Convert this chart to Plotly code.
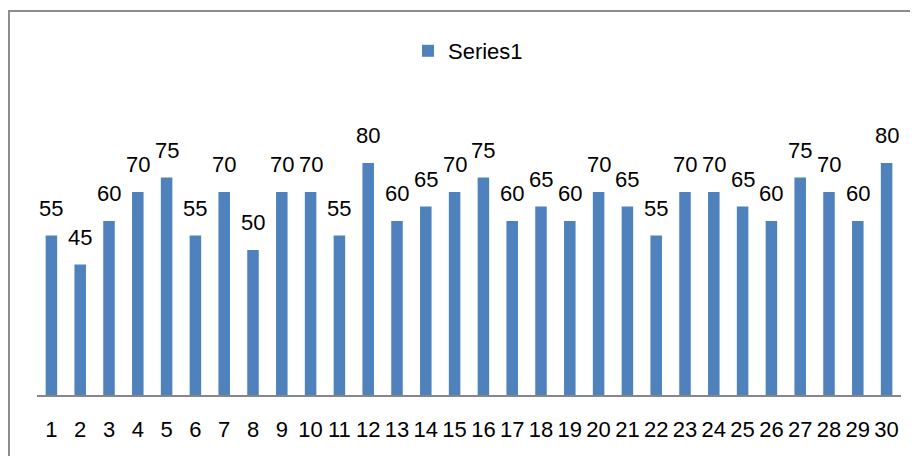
import plotly.graph_objects as go

categories = [str(i) for i in range(1, 31)]
values = [55, 45, 60, 70, 75, 55, 70, 50, 70, 70, 55, 80, 60, 65, 70,
          75, 60, 65, 60, 70, 65, 55, 70, 70, 65, 60, 75, 70, 60, 80]
series_name = "Series1"

W, H = 918, 456
OFF = 8  # page body margin of the browser
pw, ph = 864, 261
ml, mt = 37 - OFF, 134 - OFF
mr = W - ml - pw
mb = H - mt - ph


def px_x(p):
    return (p - OFF - ml) / pw


def px_y(p):
    return (OFF + mt + ph - p) / ph


FONT = "Liberation Sans"

fig = go.Figure()
fig.add_trace(go.Bar(
    x=categories, y=values, name=series_name,
    marker=dict(color="#4F81BD", line=dict(width=0)),
    showlegend=True,
))

for i, v in enumerate(values):
    fig.add_annotation(x=i, y=v, text=str(v), showarrow=False,
                       yanchor="bottom", yshift=13,
                       font=dict(family=FONT, size=22, color="#000000"))

fig.add_shape(type="rect", xref="paper", yref="paper",
              x0=px_x(9), x1=px_x(960), y0=px_y(490), y1=px_y(11),
              line=dict(color="#8c8c8c", width=2), fillcolor="rgba(0,0,0,0)",
              layer="below")

fig.update_layout(
    width=W, height=H,
    margin=dict(l=ml, r=mr, t=mt, b=mb),
    paper_bgcolor="white", plot_bgcolor="white",
    bargap=0.6,
    font=dict(family=FONT, size=22, color="#000000"),
    legend=dict(orientation="h", x=px_x(468), xanchor="center",
                y=px_y(51), yanchor="middle",
                font=dict(family=FONT, size=22, color="#000000"),
                bgcolor="rgba(0,0,0,0)"),
    xaxis=dict(type="category", range=[-0.5, len(categories) - 0.5],
               autorange=False, showgrid=False, zeroline=False,
               showline=True, linecolor="#878787", linewidth=1.5,
               ticks="", ticklabelstandoff=14,
               tickfont=dict(family=FONT, size=22, color="#000000")),
    yaxis=dict(range=[0, 90], autorange=False, visible=False,
               showgrid=False, zeroline=False),
)

fig.write_html("out.html")
